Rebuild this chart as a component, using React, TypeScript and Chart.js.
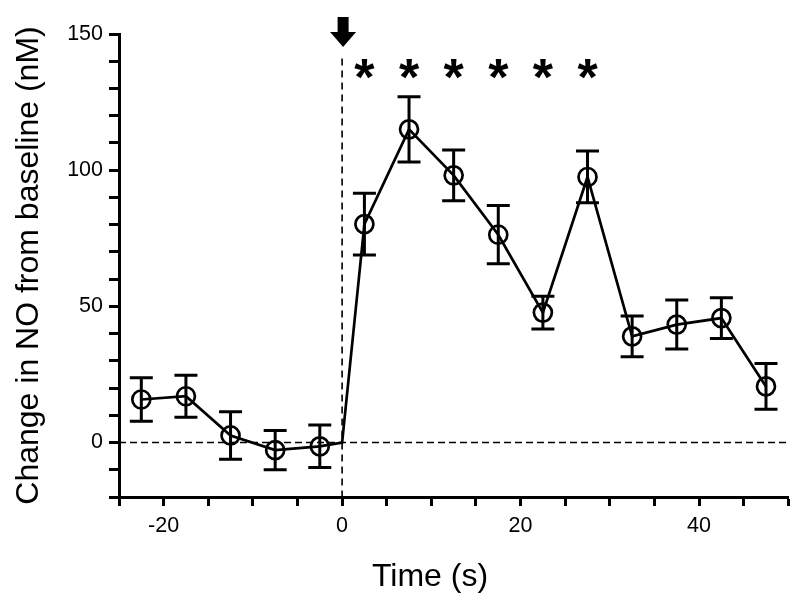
import React, { useEffect, useRef } from 'react';
import { Chart, registerables } from 'chart.js';

Chart.register(...registerables);

// ---- data ----
const timePoints = [-22.5, -17.5, -12.5, -7.5, -2.5, 0, 2.5, 7.5, 12.5, 17.5, 22.5, 27.5, 32.5, 37.5, 42.5, 47.5];
const meanValues = [15.8, 17, 2.6, -2.8, -1.4, 0, 80.2, 115, 98.1, 76.3, 47.7, 97.5, 39, 43.3, 45.7, 20.6];
const errorValues = [8, 7.7, 8.7, 7.2, 7.8, 0, 11.3, 12, 9.3, 10.7, 6, 9.5, 7.5, 9, 7.5, 8.4];
const markerShown = [1, 1, 1, 1, 1, 0, 1, 1, 1, 1, 1, 1, 1, 1, 1, 1];
const significantTimes = [2.5, 7.5, 12.5, 17.5, 22.5, 27.5];
const asteriskLevel = 137;
const stimulusTime = 0;
const stimulusLineTop = 141;
const baselineValue = 0;
const xTickLabels = [-20, 0, 20, 40];
const yTickLabels = [0, 50, 100, 150];
const xLabel = 'Time (s)';
const yLabel = 'Change in NO from baseline (nM)';

const FONT = '"Liberation Sans", Arial, sans-serif';

const overlayPlugin = {
  id: 'overlay',
  beforeDatasetsDraw(chart: any) {
    const { ctx, scales } = chart;
    const xs = scales.x;
    const ys = scales.y;
    ctx.save();
    ctx.strokeStyle = '#000';
    ctx.lineWidth = 1.6;
    // horizontal baseline
    ctx.setLineDash([7, 4]);
    const y0 = ys.getPixelForValue(baselineValue);
    ctx.beginPath();
    ctx.moveTo(xs.left, y0);
    ctx.lineTo(xs.right, y0);
    ctx.stroke();
    // vertical stimulus line
    ctx.setLineDash([7, 5]);
    const x0 = xs.getPixelForValue(stimulusTime);
    ctx.beginPath();
    ctx.moveTo(x0, ys.getPixelForValue(stimulusLineTop));
    ctx.lineTo(x0, ys.bottom);
    ctx.stroke();
    ctx.restore();
  },
  afterDatasetsDraw(chart: any) {
    const { ctx, scales } = chart;
    const xs = scales.x;
    const ys = scales.y;
    ctx.save();
    ctx.strokeStyle = '#000';
    ctx.fillStyle = '#000';
    ctx.lineWidth = 3;
    ctx.setLineDash([]);
    // error bars
    timePoints.forEach((t, i) => {
      const e = errorValues[i];
      if (!e) return;
      const px = xs.getPixelForValue(t);
      const top = ys.getPixelForValue(meanValues[i] + e);
      const bot = ys.getPixelForValue(meanValues[i] - e);
      ctx.beginPath();
      ctx.moveTo(px, top);
      ctx.lineTo(px, bot);
      ctx.moveTo(px - 11.5, top);
      ctx.lineTo(px + 11.5, top);
      ctx.moveTo(px - 11.5, bot);
      ctx.lineTo(px + 11.5, bot);
      ctx.stroke();
    });
    // asterisks
    ctx.font = `bold 52px ${FONT}`;
    ctx.textAlign = 'center';
    ctx.textBaseline = 'alphabetic';
    significantTimes.forEach((t) => {
      const px = xs.getPixelForValue(t);
      const py = ys.getPixelForValue(asteriskLevel);
      ctx.fillText('*', px, py + 26);
    });
    // arrow
    const ax = xs.getPixelForValue(stimulusTime) + 1;
    const tip = ys.getPixelForValue(145.2);
    ctx.beginPath();
    ctx.moveTo(ax - 5.5, tip - 30);
    ctx.lineTo(ax + 5.5, tip - 30);
    ctx.lineTo(ax + 5.5, tip - 15);
    ctx.lineTo(ax + 13, tip - 15);
    ctx.lineTo(ax, tip);
    ctx.lineTo(ax - 13, tip - 15);
    ctx.lineTo(ax - 5.5, tip - 15);
    ctx.closePath();
    ctx.fill();
    // x title
    ctx.font = `32px ${FONT}`;
    ctx.textAlign = 'center';
    ctx.textBaseline = 'alphabetic';
    ctx.fillText(xLabel, 430, 586);
    ctx.restore();
  },
};

export default function App() {
  const canvasRef = useRef<HTMLCanvasElement | null>(null);

  useEffect(() => {
    const canvas = canvasRef.current;
    if (!canvas) return;
    const chart = new Chart(canvas, {
      type: 'line',
      data: {
        datasets: [
          {
            data: timePoints.map((t, i) => ({ x: t, y: meanValues[i] })),
            borderColor: '#000',
            borderWidth: 2.7,
            pointRadius: markerShown.map((m) => (m ? 9 : 0)),
            pointBorderWidth: 2.7,
            pointBorderColor: '#000',
            pointBackgroundColor: 'rgba(0,0,0,0)',
            pointStyle: 'circle',
            tension: 0,
            fill: false,
          },
        ],
      },
      options: {
        responsive: false,
        animation: false,
        events: [],
        layout: { padding: { top: 34, right: 10, left: 0, bottom: 0 } },
        plugins: {
          legend: { display: false },
          tooltip: { enabled: false },
          title: { display: false },
        },
        scales: {
          x: {
            type: 'linear',
            min: -25,
            max: 50,
            afterFit: (s: any) => {
              s.height = 105;
            },
            ticks: {
              stepSize: 5,
              autoSkip: false,
              maxRotation: 0,
              color: '#000',
              padding: 7,
              font: { family: FONT, size: 21.5 },
              callback: (v: any) => (xTickLabels.includes(Number(v)) ? String(v) : ''),
            },
            grid: {
              drawOnChartArea: false,
              drawTicks: true,
              tickLength: 9,
              tickWidth: 3,
              tickColor: '#000',
              color: '#000',
            },
            border: { display: true, width: 3, color: '#000' },
            title: { display: false },
          },
          y: {
            type: 'linear',
            min: -20,
            max: 150,
            afterFit: (s: any) => {
              s.width = 119;
            },
            ticks: {
              stepSize: 10,
              autoSkip: false,
              color: '#000',
              padding: 6,
              font: { family: FONT, size: 21.5 },
              callback: (v: any) => (yTickLabels.includes(Number(v)) ? String(v) : ''),
            },
            grid: {
              drawOnChartArea: false,
              drawTicks: true,
              tickLength: 10,
              tickWidth: 3,
              tickColor: '#000',
              color: '#000',
            },
            border: { display: true, width: 3, color: '#000' },
            title: {
              display: true,
              text: yLabel,
              color: '#000',
              font: { family: FONT, size: 32 },
              padding: { top: 10, bottom: 0 },
            },
          },
        },
      },
      plugins: [overlayPlugin],
    } as any);
    return () => chart.destroy();
  }, []);

  return (
    <div style={{ position: 'fixed', left: 0, top: 0, width: 800, height: 602, background: '#fff' }}>
      <canvas ref={canvasRef} width={800} height={602} style={{ display: 'block' }} />
    </div>
  );
}
